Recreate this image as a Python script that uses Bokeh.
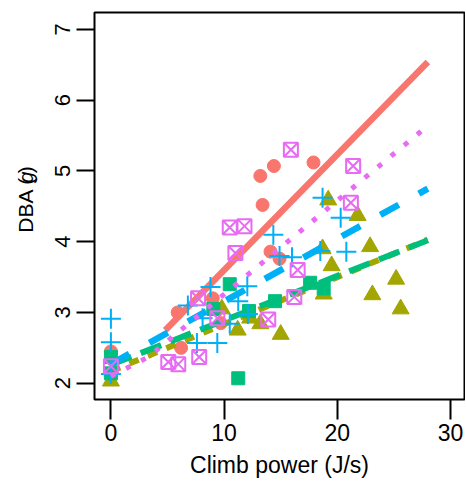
import math
from bokeh.plotting import figure
from bokeh.layouts import row
from bokeh.models import Range1d, FixedTicker, Label
from bokeh.embed import file_html
from bokeh.resources import INLINE

# ---- data ----
red_x = [0, 5.9, 6.2, 9.0, 9.7, 13.2, 13.4, 14.4, 17.9, 14.1, 14.9]
red_y = [2.45, 3.0, 2.5, 3.2, 2.85, 4.93, 4.52, 5.07, 5.12, 3.86, 3.76]

olive_x = [0, 9.8, 11.2, 12.3, 13.2, 15.0, 18.7, 18.8, 19.2, 19.5, 21.8, 22.9, 23.1, 25.2, 25.6]
olive_y = [2.03, 3.05, 2.75, 2.92, 2.84, 2.69, 3.9, 3.26, 4.59, 3.66, 4.37, 3.93, 3.25, 3.47, 3.05]

green_x = [0, 0, 9.05, 10.5, 11.25, 12.2, 14.5, 17.6, 18.8]
green_y = [2.37, 2.14, 3.05, 3.4, 2.07, 3.02, 3.16, 3.42, 3.34]

blue_x = [0, 0, 0, 6.8, 7.6, 8.1, 8.8, 9.4, 10.5, 11.25, 12.05, 12.1, 14.35, 14.9, 16.0, 18.5, 18.7, 20.3, 20.8]
blue_y = [2.91, 2.58, 2.13, 3.1, 2.57, 2.92, 3.36, 2.57, 2.84, 3.16, 3.37, 2.98, 4.10, 3.8, 3.78, 3.87, 4.62, 4.34, 3.86]

magenta_x = [0, 5.07, 5.95, 7.8, 7.7, 9.4, 13.9, 16.2, 16.5, 10.5, 11.8, 11.0, 15.9, 21.4, 21.2]
magenta_y = [2.24, 2.30, 2.27, 2.37, 3.2, 2.92, 2.9, 3.22, 3.6, 4.2, 4.22, 3.84, 5.3, 5.07, 4.55]

# fitted lines
red_fit_x = [4.8, 28]
red_fit_y = [2.75, 6.54]
olive_fit_x = [0, 28]
olive_fit_y = [2.17, 4.03]
green_fit_x = [0, 28]
green_fit_y = [2.26, 4.02]
blue_fit_x = [0, 28]
blue_fit_y = [2.27, 4.75]
magenta_fit_x = [0, 3.3, 28]
magenta_fit_y = [2.1, 2.37, 5.64]

x_ticks = [0, 10, 20, 30]
y_ticks = [2, 3, 4, 5, 6, 7]
y_label_parts = ["DBA (", "g", ")"]

RED, OLIVE, GREEN, BLUE, MAGENTA = "#F8766D", "#A3A500", "#00BF7D", "#00B0F6", "#E76BF3"
FONT = "Liberation Sans"
H = 480
LW = 44  # width of the strip holding the y-axis title

# ---- main plot ----
p = figure(width=465 - LW, height=H,
           x_range=Range1d(-1.45, 31.24), y_range=Range1d(1.77, 7.24),
           output_backend="svg", toolbar_location=None,
           min_border_left=94 - LW, min_border_right=1, min_border_top=12, min_border_bottom=0)
p.xgrid.visible = False
p.ygrid.visible = False
p.outline_line_color = "black"
p.outline_line_width = 2
p.background_fill_color = "white"
p.border_fill_color = "white"

for ax in (p.xaxis, p.yaxis):
    ax.major_tick_in = 0
    ax.major_tick_line_width = 2
    ax.major_tick_line_color = "black"
    ax.minor_tick_line_color = None
    ax.axis_line_color = None
    ax.major_label_text_font = FONT
    ax.major_label_text_color = "black"

p.xaxis.ticker = FixedTicker(ticks=x_ticks)
p.yaxis.ticker = FixedTicker(ticks=y_ticks)
p.xaxis.major_tick_out = 20
p.yaxis.major_tick_out = 18
p.xaxis.major_label_text_font_size = "23px"
p.yaxis.major_label_text_font_size = "22px"
p.xaxis.major_label_standoff = 4
p.xaxis.axis_label = "Climb power (J/s)"
p.xaxis.axis_label_text_font = FONT
p.xaxis.axis_label_text_font_size = "23px"
p.xaxis.axis_label_text_font_style = "normal"
p.xaxis.axis_label_text_color = "black"
p.xaxis.axis_label_standoff = 8
p.yaxis.major_label_orientation = "vertical"
p.yaxis.major_label_standoff = 6

# points then fitted line, group by group
p.scatter(red_x, red_y, marker="circle", size=13, fill_color=RED, line_color=RED)
p.line(red_fit_x, red_fit_y, line_color=RED, line_width=6.5)

p.scatter(olive_x, olive_y, marker="triangle", size=17, fill_color=OLIVE, line_color=OLIVE)
p.line(olive_fit_x, olive_fit_y, line_color=OLIVE, line_width=6, line_dash="10 10")

p.scatter(green_x, green_y, marker="square", size=13, fill_color=GREEN, line_color=GREEN)
p.line(green_fit_x, green_fit_y, line_color=GREEN, line_width=6, line_dash="22 10")

p.scatter(blue_x, blue_y, marker="cross", size=20, line_color=BLUE, line_width=2)
p.line(blue_fit_x, blue_fit_y, line_color=BLUE, line_width=6.5, line_dash="21 23")

p.scatter(magenta_x, magenta_y, marker="square_x", size=14, fill_color=None,
          line_color=MAGENTA, line_width=2)
p.line(magenta_fit_x, magenta_fit_y, line_color=MAGENTA, line_width=5, line_dash="5 12")

# ---- y-axis title strip ----
t = figure(width=LW, height=H, x_range=Range1d(0, LW), y_range=Range1d(0, H),
           output_backend="svg", toolbar_location=None, x_axis_type=None, y_axis_type=None,
           min_border_left=0, min_border_right=0, min_border_top=0, min_border_bottom=0)
t.xgrid.visible = False
t.ygrid.visible = False
t.outline_line_color = None
t.border_fill_color = "white"
t.background_fill_color = "white"
fs = 21
widths = [2.667 * fs, 0.556 * fs, 0.333 * fs]
center_y = 251
y0 = center_y - sum(widths) / 2
centers = [y0 + widths[0] / 2,
           y0 + widths[0] + widths[1] / 2,
           y0 + widths[0] + widths[1] + widths[2] / 2]
styles = ["normal", "italic", "normal"]
for txt, yy, st in zip(y_label_parts, centers, styles):
    t.add_layout(Label(x=24.5, y=yy, x_units="data", y_units="data", text=txt,
                       angle=math.pi / 2, text_align="center", text_baseline="middle",
                       text_font=FONT, text_font_size=f"{fs}px", text_font_style=st,
                       text_color="black"))

layout = row(t, p, spacing=0)
open("out.html", "w").write(file_html(layout, INLINE))
